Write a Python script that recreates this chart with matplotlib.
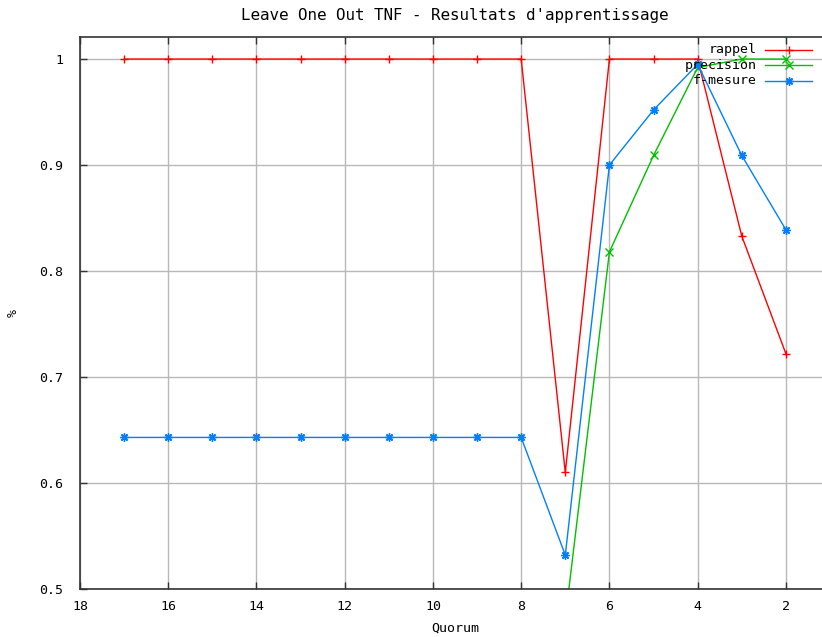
import matplotlib
matplotlib.use('Agg')
import matplotlib.pyplot as plt
from matplotlib.lines import Line2D

quorum = [17, 16, 15, 14, 13, 12, 11, 10, 9, 8, 7, 6, 5, 4, 3, 2]
rappel = [1, 1, 1, 1, 1, 1, 1, 1, 1, 1, 0.610, 1, 1, 1, 0.833, 0.722]
precision = [0.474, 0.474, 0.474, 0.474, 0.474, 0.474, 0.474, 0.474, 0.474, 0.474,
             0.472, 0.818, 0.909, 0.992, 1, 1]
fmesure = [0.643, 0.643, 0.643, 0.643, 0.643, 0.643, 0.643, 0.643, 0.643, 0.643,
           0.532, 0.900, 0.952, 0.995, 0.909, 0.839]
names = ['rappel', 'precision', 'f-mesure']
colors = ['#ff0000', '#00c000', '#0080ff']
markers = ['+', 'x', (8, 2, 0)]

plt.rcParams['font.family'] = 'DejaVu Sans Mono'
plt.rcParams['font.size'] = 9.5

W, H = 822, 637
fig = plt.figure(figsize=(W / 100, H / 100), dpi=100)
# gnuplot style: the right part of the plot is cut by the image edge
ax = fig.add_axes([80 / W, 48 / H, 750 / W, 552 / H])
ax.set_xlim(18, 1)
ax.set_ylim(0.5, 1.0208)

series = [rappel, precision, fmesure]
for vals, c, m in zip(series, colors, markers):
    ax.plot(quorum, vals, color=c, lw=1, marker=m, ms=6, mew=1)

ax.set_xticks([18, 16, 14, 12, 10, 8, 6, 4, 2])
ax.set_yticks([0.5, 0.6, 0.7, 0.8, 0.9, 1.0])
ax.set_yticklabels(['0.5', '0.6', '0.7', '0.8', '0.9', '1'])
ax.tick_params(direction='in', length=5, width=1, top=True, right=True,
               color='#333333')
ax.tick_params(axis='y', pad=12)
ax.tick_params(axis='x', pad=8)
ax.grid(True, color='#b8b8b8', lw=1)
ax.set_axisbelow(True)
for s in ax.spines.values():
    s.set_color('#333333')
    s.set_linewidth(1.2)

ax.set_title("Leave One Out TNF - Resultats d'apprentissage", pad=12)
ax.set_xlabel('Quorum', labelpad=6)
ax.set_ylabel('%', labelpad=14)

# legend, gnuplot-like (text right aligned, sample on the right)
for i, (n, c, m) in enumerate(zip(names, colors, markers)):
    py = 50 + i * 15.3
    yf = 1 - py / H
    fig.text(757 / W, yf, n, ha='right', va='center')
    fig.add_artist(Line2D([765 / W, 812 / W], [yf, yf], color=c, lw=1))
    fig.add_artist(Line2D([789 / W], [yf], color=c, marker=m, ms=6, mew=1))

fig.savefig('out.png', dpi=100)
